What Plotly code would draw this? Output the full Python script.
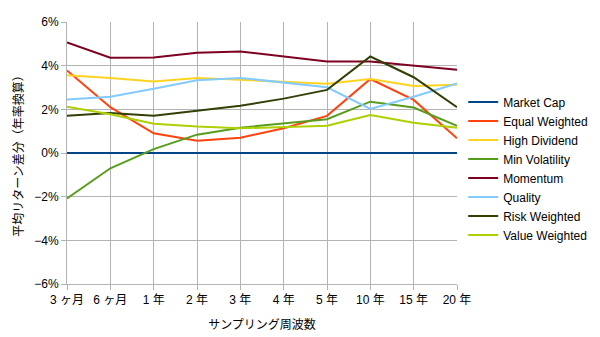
import plotly.graph_objects as go

# Sampling intervals (x categories)
periods = ["3 ヶ月", "6 ヶ月", "1 年", "2 年", "3 年", "4 年", "5 年", "10 年", "15 年", "20 年"]

# Average return difference vs. market cap, annualised (%)
market_cap = [0, 0, 0, 0, 0, 0, 0, 0, 0, 0]
equal_weighted = [3.78, 2.10, 0.90, 0.56, 0.70, 1.13, 1.70, 3.39, 2.43, 0.67]
high_dividend = [3.56, 3.44, 3.27, 3.44, 3.35, 3.27, 3.17, 3.39, 3.07, 3.13]
min_volatility = [-2.08, -0.70, 0.18, 0.84, 1.16, 1.36, 1.55, 2.35, 2.08, 1.24]
momentum = [5.06, 4.36, 4.37, 4.59, 4.65, 4.42, 4.19, 4.19, 4.00, 3.81]
quality = [2.45, 2.58, 2.94, 3.33, 3.44, 3.22, 3.01, 2.02, 2.58, 3.18]
risk_weighted = [1.71, 1.83, 1.71, 1.94, 2.16, 2.49, 2.89, 4.42, 3.47, 2.10]
value_weighted = [2.12, 1.77, 1.34, 1.21, 1.13, 1.19, 1.25, 1.74, 1.39, 1.16]

series = [
    ("Market Cap", market_cap, "#004586"),
    ("Equal Weighted", equal_weighted, "#ff420e"),
    ("High Dividend", high_dividend, "#ffd320"),
    ("Min Volatility", min_volatility, "#579d1c"),
    ("Momentum", momentum, "#7e0021"),
    ("Quality", quality, "#83caff"),
    ("Risk Weighted", risk_weighted, "#314004"),
    ("Value Weighted", value_weighted, "#aecf00"),
]

FONT = "Liberation Sans, Arial, Noto Sans CJK JP, sans-serif"

fig = go.Figure()
for name, vals, color in series:
    fig.add_trace(go.Scatter(
        x=periods, y=[v / 100 for v in vals], name=name, mode="lines",
        line=dict(color=color, width=2),
    ))

fig.update_layout(
    width=600, height=337,
    margin=dict(l=67, r=143, t=22, b=53, autoexpand=False),
    paper_bgcolor="white", plot_bgcolor="white",
    font=dict(family=FONT, size=12, color="black"),
    showlegend=True,
    legend=dict(
        xref="container", yref="container",
        x=0.772, y=0.5, xanchor="left", yanchor="middle",
        font=dict(size=12, color="black"),
        itemwidth=30, tracegroupgap=0,
        bgcolor="rgba(0,0,0,0)",
    ),
    xaxis=dict(
        type="category", range=[0, 9], automargin=False,
        showgrid=True, gridcolor="#b3b3b3", gridwidth=1,
        showline=True, linecolor="#b3b3b3", mirror=False,
        ticks="outside", ticklen=5, tickcolor="#b3b3b3",
        tickfont=dict(size=12), zeroline=False,
        title=dict(text="サンプリング周波数", font=dict(size=12), standoff=14),
    ),
    yaxis=dict(
        range=[-0.06, 0.06], dtick=0.02, tickformat=".0%", automargin=False,
        showgrid=True, gridcolor="#b3b3b3", gridwidth=1,
        showline=True, linecolor="#b3b3b3",
        ticks="outside", ticklen=5, tickcolor="#b3b3b3",
        tickfont=dict(size=12), zeroline=False,
        title=dict(text="平均リターン差分（年率換算）", font=dict(size=12), standoff=8),
    ),
)

fig.write_html("out.html")
